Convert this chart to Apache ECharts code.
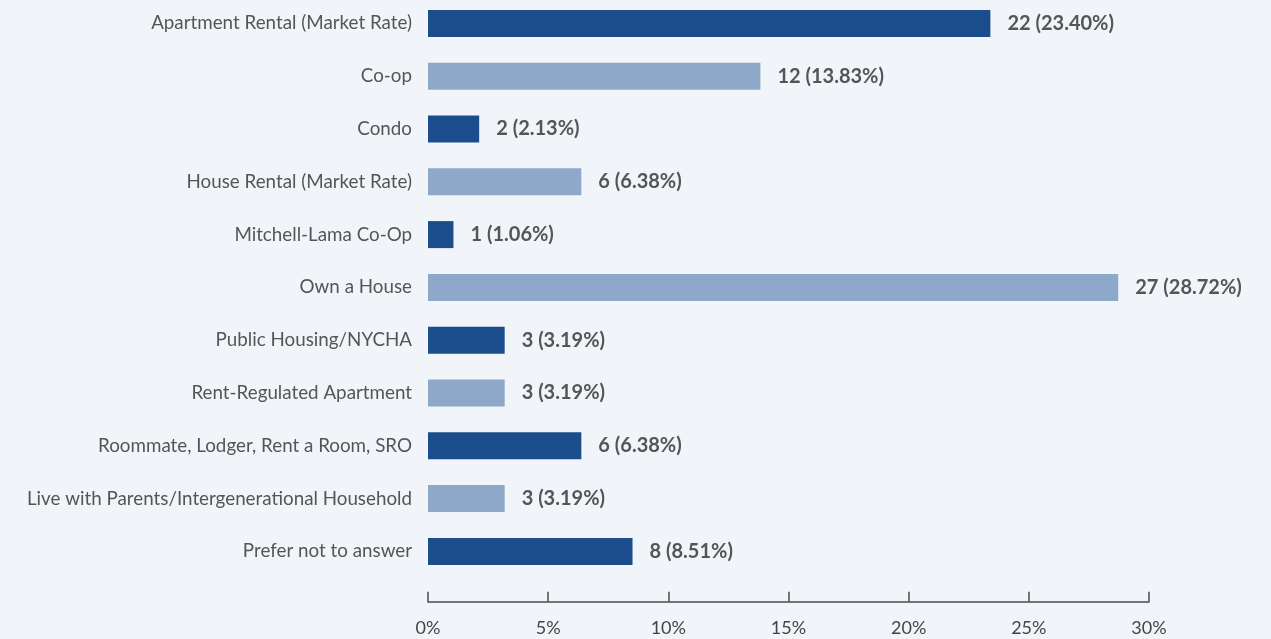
<!DOCTYPE html>
<html><head><meta charset="utf-8">
<script src="https://cdn.jsdelivr.net/npm/echarts@6/dist/echarts.min.js"></script>
<style>html,body{margin:0;padding:0;background:#f1f5f9;}#c{width:1271px;height:639px;}</style>
</head><body><div id="c"></div>
<script>
const categories = ["Apartment Rental (Market Rate)","Co-op","Condo","House Rental (Market Rate)","Mitchell-Lama Co-Op","Own a House","Public Housing/NYCHA","Rent-Regulated Apartment","Roommate, Lodger, Rent a Room, SRO","Live with Parents/Intergenerational Household","Prefer not to answer"];
const counts = [22,12,2,6,1,27,3,3,6,3,8];
const percents = [23.40,13.83,2.13,6.38,1.06,28.72,3.19,3.19,6.38,3.19,8.51];
const xTicks = [0,5,10,15,20,25,30];
const colors = ["#1b4d8c","#8da8c9"];
const chart = echarts.init(document.getElementById('c'));
chart.setOption({
  backgroundColor:'#f1f5f9',
  animation:false,
  grid:{left:428,right:122,top:-3,bottom:61.2,containLabel:false,outerBoundsMode:'none'},
  xAxis:{type:'value',min:xTicks[0],max:xTicks[xTicks.length-1],interval:5,offset:24,
    axisLine:{show:true,lineStyle:{color:'#4a4a4a',width:1.5}},
    axisTick:{show:true,inside:true,length:10,lineStyle:{color:'#4a4a4a',width:1.5}},
    splitLine:{show:false},
    axisLabel:{formatter:'{value}%',color:'#444',fontSize:18,fontFamily:'Lato',margin:17}},
  yAxis:{type:'category',data:categories,inverse:true,
    axisLine:{show:false},axisTick:{show:false},
    axisLabel:{color:'#555',fontSize:18.8,fontFamily:'Lato',margin:16}},
  series:[{type:'bar',barWidth:27,
    data:percents.map((p,i)=>({value:p,itemStyle:{color:colors[i%2]}})),
    label:{show:true,position:'right',distance:17,color:'#555',fontWeight:'bold',fontSize:20,fontFamily:'Lato',
      formatter:p=>counts[p.dataIndex]+' ('+percents[p.dataIndex].toFixed(2)+'%)'}}]
});
</script></body></html>
